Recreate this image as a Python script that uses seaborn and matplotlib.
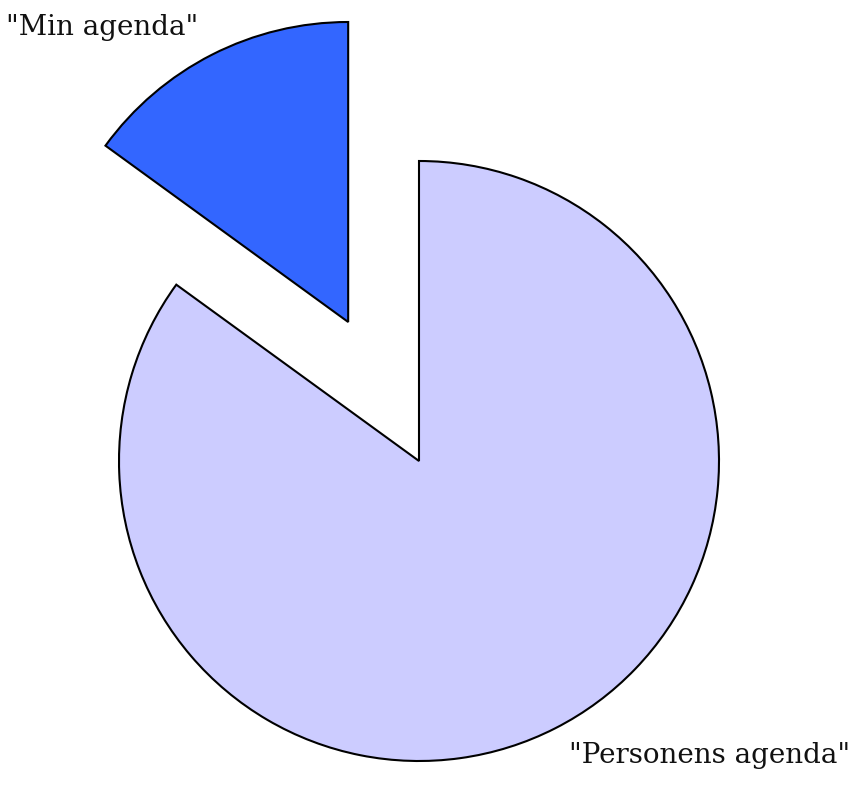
import matplotlib
matplotlib.use('Agg')
import matplotlib.pyplot as plt
import seaborn as sns

labels = ['"Min agenda"', '"Personens agenda"']
shares = [15, 85]
colors = ['#3366ff', '#ccccff']
explode = [0.52, 0]

sns.set_style('white')
plt.rcParams['font.family'] = ['DejaVu Serif']

fig = plt.figure(figsize=(8.6, 7.87), dpi=100)
ax = fig.add_axes([0, 0, 1, 1])

wedges, texts = ax.pie(shares, labels=labels, colors=colors, explode=explode,
                       startangle=90, counterclock=True, labeldistance=1.1,
                       wedgeprops=dict(edgecolor='black', linewidth=1.5),
                       textprops=dict(fontsize=20, color='#111111'))

# one data unit = 300 px, pie centre at (419, 461) from top-left
ax.set_xlim(-419 / 300, 441 / 300)
ax.set_ylim(-326 / 300, 461 / 300)
ax.set_aspect('equal')
ax.axis('off')

fig.savefig('out.png', dpi=100)
plt.close()
